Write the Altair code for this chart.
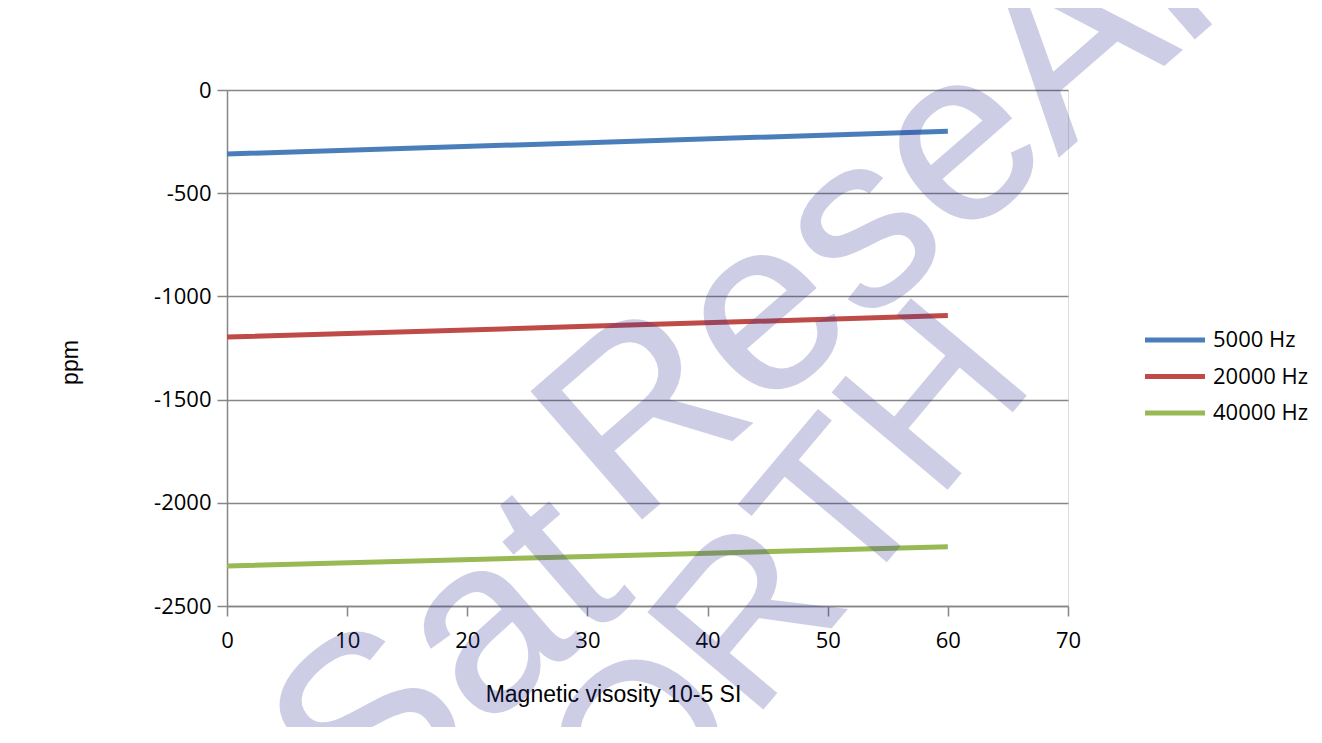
import altair as alt
import pandas as pd

# data
x_vals = [0, 30, 60]
series_names = ["5000 Hz", "20000 Hz", "40000 Hz"]
hz5000 = [-310, -255, -200]
hz20000 = [-1197, -1145, -1093]
hz40000 = [-2306, -2260, -2213]
colors = ["#4A7EBB", "#BE4B48", "#98B954"]
x_ticks = [0, 10, 20, 30, 40, 50, 60, 70]
y_ticks = [0, -500, -1000, -1500, -2000, -2500]
watermark = ["Sat", "ReseArch", "ORTH"]

rows = []
for name, vals in zip(series_names, [hz5000, hz20000, hz40000]):
    for xv, yv in zip(x_vals, vals):
        rows.append({"x": xv, "y": yv, "series": name})
df = pd.DataFrame(rows)
leg_df = pd.DataFrame({"series": series_names})

GRAY = "#868686"
TICK_FONT = "Open Sans"
WM = "#333399"
color_scale = alt.Scale(domain=series_names, range=colors)

lines = alt.Chart(df).mark_line(strokeWidth=5, strokeCap="butt").encode(
    x=alt.X("x:Q",
            scale=alt.Scale(domain=[0, 70], nice=False, zero=False),
            axis=alt.Axis(values=x_ticks, title="Magnetic visosity 10-5 SI",
                          grid=False, domainColor=GRAY, domainWidth=1.5,
                          tickColor=GRAY, tickWidth=1.5, tickSize=10,
                          labelFont=TICK_FONT, labelFontSize=22, labelColor="#000000",
                          labelPadding=14, labelFlush=False,
                          labelExpr="'' + datum.value",
                          titleFont="Liberation Sans", titleFontSize=23,
                          titleFontWeight="normal", titleColor="#000000",
                          titleX=386, titleY=95, titleBaseline="alphabetic",
                          titleAnchor="middle", titleAlign="center")),
    y=alt.Y("y:Q",
            scale=alt.Scale(domain=[-2500, 0], nice=False, zero=False),
            axis=alt.Axis(values=y_ticks, title="ppm",
                          grid=True, gridColor=GRAY, gridWidth=1.5,
                          domainColor=GRAY, domainWidth=1.5,
                          tickColor=GRAY, tickWidth=1.5, tickSize=10,
                          labelFont=TICK_FONT, labelFontSize=22, labelColor="#000000",
                          labelPadding=6, labelFlush=False,
                          labelExpr="'' + datum.value",
                          titleFont="Liberation Sans", titleFontSize=23,
                          titleFontWeight="normal", titleColor="#000000",
                          titleAngle=270, titleX=-157, titleY=272,
                          titleAlign="center", titleBaseline="middle")),
    color=alt.Color("series:N", scale=color_scale, legend=None),
)

leg_y = alt.Y("series:N", scale=alt.Scale(type="point", domain=series_names,
                                          range=[250, 323], padding=0),
              axis=None)

leg_rules = alt.Chart(leg_df).mark_rule(strokeWidth=5, strokeCap="butt").encode(
    y=leg_y, x=alt.value(918), x2=alt.value(978),
    color=alt.Color("series:N", scale=color_scale, legend=None),
)

leg_text = alt.Chart(leg_df).mark_text(
    font=TICK_FONT, fontSize=22, color="#000000", align="left", baseline="middle"
).encode(y=leg_y, x=alt.value(986), text="series:N")


def wm_layer(word, size, angle, px, py):
    return alt.Chart(pd.DataFrame({"t": [word]})).mark_text(
        font="Liberation Sans", fontSize=size, angle=angle, align="center",
        baseline="alphabetic", color=WM, stroke=WM, strokeWidth=1.5,
        opacity=0.24
    ).encode(text="t:N", x=alt.value(px), y=alt.value(py))


wm1 = wm_layer(watermark[0], 245, 319, 271, 628)
wm2 = wm_layer(watermark[1], 245, 319, 806, 89)
wm3 = wm_layer(watermark[2], 218, 310, 613, 527)

chart = alt.layer(lines, leg_rules, leg_text, wm1, wm2, wm3).resolve_scale(
    y="independent"
).properties(
    width=841, height=516,
    autosize=alt.AutoSizeParams(type="none"),
    padding={"left": 219, "top": 82, "right": 246, "bottom": 121},
).configure_view(stroke=None).configure(background="#ffffff")

chart.save("out.html", embed_options={"renderer": "svg", "actions": False})
